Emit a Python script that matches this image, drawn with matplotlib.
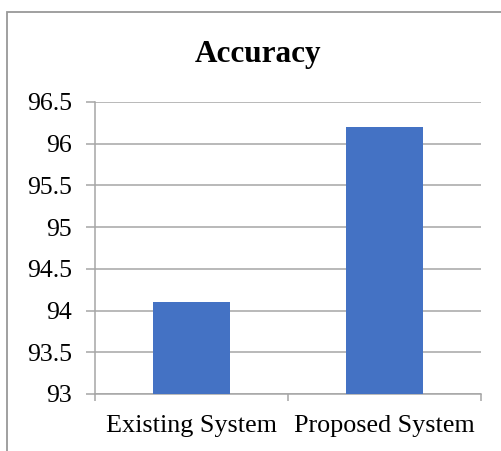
import matplotlib.pyplot as plt
import matplotlib.patches as patches

# accuracy of the two systems
categories = ['Existing System', 'Proposed System']
accuracy = [94.1, 96.2]
yticks = [93, 93.5, 94, 94.5, 95, 95.5, 96, 96.5]
ytick_labels = ['93', '93.5', '94', '94.5', '95', '95.5', '96', '96.5']

plt.rcParams['font.family'] = ['Liberation Serif', 'DejaVu Serif']

fig = plt.figure(figsize=(5.02, 4.51), dpi=100)
ax = fig.add_axes([95/502, 57/451, 386/502, 292/451])

gray = '#a6a6a6'
ax.bar(range(len(categories)), accuracy, width=0.4, color='#4472C4', zorder=3)

ax.set_xlim(-0.5, len(categories) - 0.5)
ax.set_ylim(93, 96.5)
ax.set_yticks(yticks)
ax.set_yticklabels(ytick_labels, fontsize=18.5)
ax.yaxis.grid(True, color=gray, linewidth=1.1)
ax.set_axisbelow(True)

# category labels in the middle, tick marks on the borders
ax.set_xticks(range(len(categories)))
ax.set_xticklabels(categories, fontsize=18.8)
ax.set_xticks([i - 0.5 for i in range(len(categories) + 1)], minor=True)
ax.tick_params(axis='x', which='major', length=0, pad=15)
ax.tick_params(axis='x', which='minor', length=5, width=1.1, color=gray, direction='out')
ax.tick_params(axis='y', length=6.5, width=1.1, color=gray, direction='out', pad=10)

for s in ['top', 'right']:
    ax.spines[s].set_visible(False)
for s in ['left', 'bottom']:
    ax.spines[s].set_color(gray)
    ax.spines[s].set_linewidth(1.1)

fig.text(258/502, 1 - 62/451, 'Accuracy', ha='center', va='baseline',
         fontsize=22.5, fontweight='bold')

# chart frame
frame = patches.Rectangle((7.5/502, -0.2), 1.2, 1.2 - 11.5/451,
                          transform=fig.transFigure, fill=False,
                          edgecolor='#999999', linewidth=1.3, clip_on=False)
fig.patches.append(frame)

fig.savefig('out.png', dpi=100)
